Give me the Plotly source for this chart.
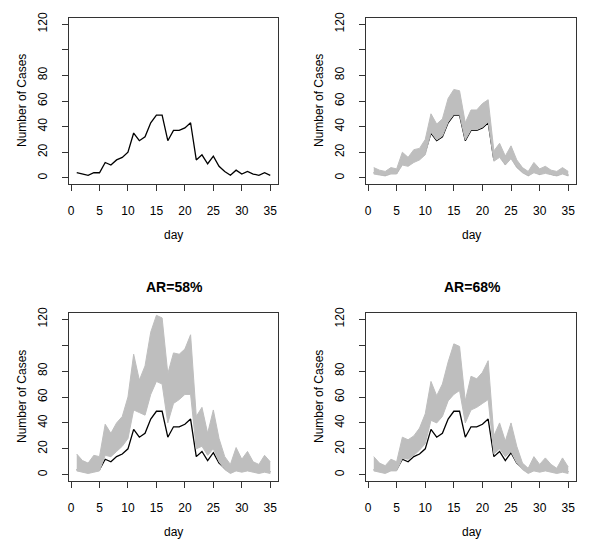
import plotly.graph_objects as go

days = list(range(1, 36))

observed = [4, 3, 2, 4, 4, 12, 10, 14, 16, 20, 35, 29, 32, 43, 49, 49, 29, 37, 37, 39,
            43, 14, 18, 11, 17, 9, 5, 2, 6, 3, 5, 3, 2, 4, 2]

# panel 2 (top right): simulated epidemic envelope
p2_upper = [8, 6, 5, 8, 7, 20, 16, 22, 23, 30, 50, 42, 46, 62, 69, 68, 43, 53, 53, 58,
            61, 21, 27, 17, 25, 14, 8, 5, 12, 7, 9, 6, 5, 8, 5]
p2_lower = [3, 2, 1.5, 3, 3, 10, 9, 12, 14, 18, 35.6, 29.6, 32.6, 43.6, 49.6, 49.6, 29.6, 37.6, 37.6, 39.6,
            43.6, 13, 16, 10, 15, 8, 4, 1.5, 4, 2.5, 3.5, 2.5, 1.5, 3, 1.5]

# panel 3: AR=58%
p3_upper = [16, 11, 9, 15, 14, 39, 32, 40, 45, 60, 93, 73, 84, 110, 123, 121, 78, 94, 93, 97,
            108, 45, 52, 32, 50, 28, 14, 8, 21, 12, 18, 10, 8, 15, 10]
p3_lower = [3, 2, 1, 2, 3, 15, 14, 18, 22, 28, 50, 48, 46, 62, 72, 70, 40, 55, 58, 62,
            62, 20, 22, 15, 20, 10, 4, 1, 3, 2, 3, 2, 1, 2, 1]

# panel 4: AR=68%
p4_upper = [14, 9, 7, 12, 10, 29, 27, 30, 36, 47, 72, 61, 70, 87, 101, 99, 57, 76, 74, 79,
            88, 30, 40, 26, 40, 22, 9, 5, 14, 8, 13, 8, 5, 13, 6]
p4_lower = [3, 2, 1, 3, 3, 12.8, 12, 15, 19, 24, 42, 40, 45, 57, 62, 65, 40, 50, 52, 55,
            58, 16, 20, 14, 18, 9, 4, 1, 3, 2, 3, 2, 1, 2, 1]

titles = ["", "", "AR=58%", "AR=68%"]
x_ticks = [0, 5, 10, 15, 20, 25, 30, 35]
y_ticks = [0, 20, 40, 60, 80, 100, 120]
y_ticktext = ["0", "20", "40", "60", "80", "", "120"]

W, H = 600, 548
FONT = "Liberation Sans, Arial, sans-serif"
GRAY = "#BEBEBE"

# panel boxes in pixels: (left, right, top, bottom)
boxes = [(69, 278, 18, 184), (366, 576, 18, 184), (69, 278, 313, 481), (366, 576, 313, 481)]
bands = [None, (p2_lower, p2_upper), (p3_lower, p3_upper), (p4_lower, p4_upper)]

fig = go.Figure()
layout = dict(width=W, height=H, margin=dict(l=0, r=0, t=0, b=0, pad=0),
              paper_bgcolor="white", plot_bgcolor="white", showlegend=False,
              hovermode=False,
              font=dict(family=FONT, size=12, color="black"))
annotations = []

for i, (l, r, t, b) in enumerate(boxes):
    n = "" if i == 0 else str(i + 1)
    xa, ya = "x" + n, "y" + n
    fig.add_trace(go.Scatter(x=days, y=observed, mode="lines", xaxis=xa, yaxis=ya,
                             line=dict(color="black", width=1.3)))
    if bands[i] is not None:
        lo, up = bands[i]
        fig.add_trace(go.Scatter(x=days, y=lo, mode="lines", xaxis=xa, yaxis=ya,
                                 line=dict(color=GRAY, width=1)))
        fig.add_trace(go.Scatter(x=days, y=up, mode="lines", xaxis=xa, yaxis=ya,
                                 line=dict(color=GRAY, width=1), fill="tonexty",
                                 fillcolor=GRAY))
    common = dict(showline=True, mirror=True, linecolor="#333333", linewidth=1,
                  ticks="outside", ticklen=6, tickcolor="#333333", showgrid=False,
                  zeroline=False, automargin=False, tickfont=dict(size=12, family=FONT))
    layout["xaxis" + n] = dict(domain=[l / W, r / W], range=[-0.36, 36.36],
                               tickvals=x_ticks, anchor=ya, ticklabelstandoff=10, **common)
    layout["yaxis" + n] = dict(domain=[1 - b / H, 1 - t / H], range=[-4.8, 124.8],
                               tickvals=y_ticks, ticktext=y_ticktext, tickangle=-90,
                               anchor=xa, ticklabelstandoff=10, **common)
    cx = (l + r) / 2
    annotations.append(dict(text="day", x=cx / W, y=1 - (b + 51) / H, xref="paper",
                            yref="paper", showarrow=False, font=dict(size=12, family=FONT),
                            xanchor="center", yanchor="middle"))
    annotations.append(dict(text="Number of Cases", x=(l - 47) / W, y=1 - ((t + b) / 2) / H,
                            xref="paper", yref="paper", showarrow=False, textangle=-90,
                            font=dict(size=12, family=FONT), xanchor="center", yanchor="middle"))
    if titles[i]:
        annotations.append(dict(text="<b>" + titles[i] + "</b>", x=(cx + 1) / W,
                                y=1 - (t - 26) / H, xref="paper", yref="paper",
                                showarrow=False, font=dict(size=14, family=FONT),
                                xanchor="center", yanchor="middle"))

layout["annotations"] = annotations
fig.update_layout(**layout)
fig.write_html("out.html", config={"displayModeBar": False},
               post_script="document.body.style.margin='0';")
